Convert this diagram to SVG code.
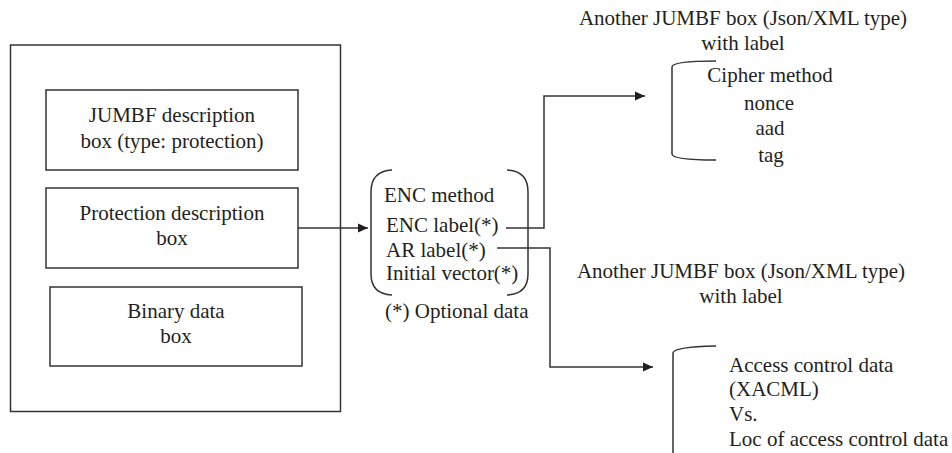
<svg xmlns="http://www.w3.org/2000/svg" width="952" height="453" viewBox="0 0 952 453">
<style>
  text { font-family: "Liberation Serif", "Times New Roman", serif; font-size: 21px; fill: #231f20; }
  .c { text-anchor: middle; }
  .box { fill: none; stroke: #333; stroke-width: 1.5; }
  .ln { fill: none; stroke: #333; stroke-width: 1.5; }
</style>
<defs>
  <marker id="ah" viewBox="0 0 10 10" refX="10" refY="5" markerWidth="10" markerHeight="10" markerUnits="userSpaceOnUse" orient="auto">
    <path d="M0,0.5 L10,5 L0,9.5 Z" fill="#231f20"/>
  </marker>
</defs>
<rect width="952" height="453" fill="#fff"/>
<g id="outer"><rect class="box" x="10.5" y="45" width="330" height="366.5"/></g>
<g id="jumbf-desc">
  <rect class="box" x="46" y="90" width="252" height="80"/>
  <text class="c" x="172" y="122">JUMBF description</text>
  <text class="c" x="172" y="148">box (type: protection)</text>
</g>
<g id="prot-desc">
  <rect class="box" x="46" y="188" width="252" height="80"/>
  <text class="c" x="172" y="220">Protection description</text>
  <text class="c" x="172" y="245">box</text>
</g>
<g id="binary">
  <rect class="box" x="50" y="287" width="252" height="79"/>
  <text class="c" x="176" y="318">Binary data</text>
  <text class="c" x="176" y="343">box</text>
</g>
<g id="enc">
  <path class="ln" d="M392,170 Q371,171 371,192 L371,274 Q371,294 392,295"/>
  <path class="ln" d="M507,170 Q528,171 528,192 L528,274 Q528,294 507,295"/>
  <text x="384" y="202">ENC method</text>
  <text x="386" y="232">ENC label(*)</text>
  <text x="386" y="257">AR label(*)</text>
  <text x="386" y="280">Initial vector(*)</text>
  <text x="385" y="318">(*) Optional data</text>
</g>
<g id="cipher">
  <text class="c" x="743" y="25">Another JUMBF box (Json/XML type)</text>
  <text class="c" x="743" y="50">with label</text>
  <path class="ln" d="M716,61 Q672,61 672,67 L672,154 Q672,160 716,160"/>
  <text class="c" x="770" y="82">Cipher method</text>
  <text class="c" x="769" y="110">nonce</text>
  <text class="c" x="770" y="135">aad</text>
  <text class="c" x="771" y="162">tag</text>
</g>
<g id="access">
  <text class="c" x="741" y="278">Another JUMBF box (Json/XML type)</text>
  <text class="c" x="741" y="303">with label</text>
  <path class="ln" d="M716,346 Q673,347 673,353 L673,453"/>
  <text x="729" y="372">Access control data</text>
  <text x="729" y="396">(XACML)</text>
  <text x="729" y="421">Vs.</text>
  <text x="729" y="446">Loc of access control data</text>
</g>
<g id="connectors">
  <path class="ln" d="M298,228 L368,228" marker-end="url(#ah)"/>
  <path class="ln" d="M506,228 L544,228 L544,96 L645,96" marker-end="url(#ah)"/>
  <path class="ln" d="M497,248 L550,248 L550,367 L653,367" marker-end="url(#ah)"/>
</g>
</svg>
